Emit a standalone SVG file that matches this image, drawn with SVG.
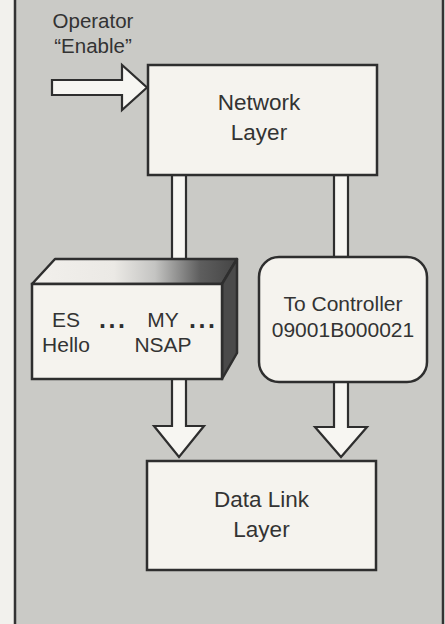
<svg xmlns="http://www.w3.org/2000/svg" width="445" height="624" viewBox="0 0 445 624">
<defs>
<style>
.bx{fill:#f5f3ee;stroke:#2e2e2e;stroke-width:2.5}
.ar{fill:#f7f6f2;stroke:#2e2e2e;stroke-width:2.2;stroke-linejoin:miter}
.t{font-family:"Liberation Sans",Arial,sans-serif;font-size:21px;fill:#333;text-anchor:middle}
.tl{font-size:22.5px}
.dots{font-family:"Liberation Sans",Arial,sans-serif;font-size:25px;font-weight:bold;fill:#2e2e2e;letter-spacing:2.5px}
</style>
<linearGradient id="topg" x1="32" y1="0" x2="237" y2="0" gradientUnits="userSpaceOnUse">
<stop offset="0" stop-color="#f2f0ec"/>
<stop offset="0.4" stop-color="#ebe9e5"/>
<stop offset="0.6" stop-color="#c4c4c2"/>
<stop offset="0.82" stop-color="#5e5e5e"/>
<stop offset="1" stop-color="#444"/>
</linearGradient>
</defs>
<rect x="0" y="0" width="445" height="624" fill="#f2f1ed"/>
<rect id="frame" x="15" y="-5" width="428" height="640" fill="#cacac6" stroke="#333" stroke-width="2.5"/>

<g id="connectors">
<polygon class="ar" points="52,80 122,80 122,65 147,87.5 122,110 122,95 52,95"/>
<rect class="ar" x="172" y="175" width="14" height="85"/>
<rect class="ar" x="334" y="175" width="14" height="82"/>
<polygon class="ar" points="172,379 186,379 186,426 204,426 179,457 154,426 172,426"/>
<polygon class="ar" points="334,382 348,382 348,427 367,427 341,457 315,427 334,427"/>
</g>

<g id="operator">
<text class="t" x="93" y="28" style="font-size:20.5px">Operator</text>
<text class="t" x="93" y="53" style="font-size:20.5px">“Enable”</text>
</g>

<g id="network-layer">
<rect class="bx" x="148" y="65" width="229" height="110"/>
<text class="t tl" x="259" y="110">Network</text>
<text class="t tl" x="259" y="140">Layer</text>
</g>

<g id="es-hello-box">
<polygon points="32,284 55,259 237,259 222,284" fill="url(#topg)" stroke="#2e2e2e" stroke-width="2.5" stroke-linejoin="round"/>
<polygon points="222,284 237,259 237,353 222,379" fill="#4a4a4a" stroke="#2e2e2e" stroke-width="2.5" stroke-linejoin="round"/>
<rect class="bx" x="32" y="284" width="190" height="95"/>
<text class="t" x="66" y="327">ES</text>
<text class="t" x="66" y="352">Hello</text>
<text class="dots" x="99" y="328">...</text>
<text class="t" x="163" y="327">MY</text>
<text class="t" x="163" y="352">NSAP</text>
<text class="dots" x="189" y="328">...</text>
</g>

<g id="controller">
<rect class="bx" x="259" y="257" width="168" height="125" rx="20" ry="20"/>
<text class="t" x="343" y="311">To Controller</text>
<text class="t" x="343" y="337">09001B000021</text>
</g>

<g id="data-link-layer">
<rect class="bx" x="147" y="461" width="229" height="109"/>
<text class="t tl" x="261.5" y="507">Data Link</text>
<text class="t tl" x="261.5" y="537">Layer</text>
</g>
</svg>
